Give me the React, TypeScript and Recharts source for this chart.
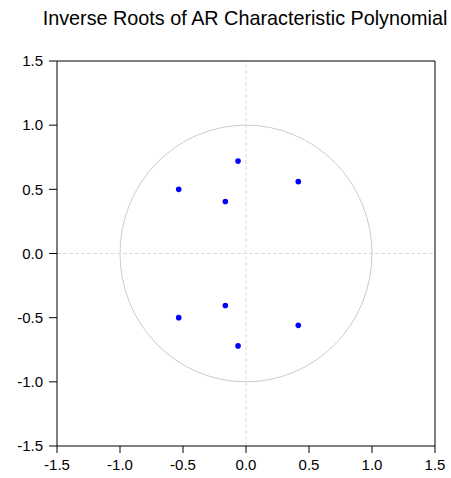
import * as R from "recharts";
import { ScatterChart, Scatter, XAxis, YAxis, ReferenceLine, Customized } from "recharts";

const rootsRe = [-0.063, 0.415, -0.534, -0.164, -0.164, -0.534, -0.063, 0.415];
const rootsIm = [0.72, 0.56, 0.5, 0.405, -0.405, -0.5, -0.72, -0.56];
const axisTicks = [-1.5, -1.0, -0.5, 0.0, 0.5, 1.0, 1.5];
const axisDomain = [-1.5, 1.5];

const roots = rootsRe.map((re, i) => ({ re, im: rootsIm[i] }));

const W = 451;
const H = 478;
const FONT = "'Liberation Sans', Arial, sans-serif";

function UnitCircle() {
  const anyR = R as any;
  let area: any = anyR.usePlotArea ? anyR.usePlotArea() : null;
  if (!area && anyR.useOffset) {
    const off = anyR.useOffset();
    const w = anyR.useChartWidth();
    const h = anyR.useChartHeight();
    if (off && w && h) area = { x: off.left, y: off.top, width: w - off.left - off.right, height: h - off.top - off.bottom };
  }
  if (!area) return null;
  const span = axisDomain[1] - axisDomain[0];
  const rx = area.width / span;
  const ry = area.height / span;
  const cx = area.x + area.width * ((0 - axisDomain[0]) / span);
  const cy = area.y + area.height * ((axisDomain[1] - 0) / span);
  return <ellipse cx={cx} cy={cy} rx={rx} ry={ry} fill="none" stroke="#cccccc" strokeWidth={1} />;
}

const fmt = (v: number) => v.toFixed(1);

export default function App() {
  return (
    <div style={{ position: "absolute", left: 0, top: 0, width: W, height: H, background: "#fff", overflow: "hidden" }}>
      <ScatterChart width={W} height={H} margin={{ top: 61, right: 16, bottom: 0, left: 0 }}>
        <text x={245} y={25} textAnchor="middle" fontFamily={FONT} fontSize={19.8} fill="#000">
          Inverse Roots of AR Characteristic Polynomial
        </text>
        <XAxis
          type="number"
          dataKey="re"
          domain={axisDomain}
          ticks={axisTicks}
          tickFormatter={fmt}
          height={32}
          tickSize={7}
          tickMargin={6}
          interval={0}
          allowDataOverflow
          axisLine={{ stroke: "#000" }}
          tickLine={{ stroke: "#000" }}
          tick={{ fill: "#000", fontSize: 15, fontFamily: FONT }}
        />
        <YAxis
          type="number"
          dataKey="im"
          domain={axisDomain}
          ticks={axisTicks}
          tickFormatter={fmt}
          width={57}
          tickSize={8}
          tickMargin={6}
          interval={0}
          allowDataOverflow
          axisLine={{ stroke: "#000" }}
          tickLine={{ stroke: "#000" }}
          tick={{ fill: "#000", fontSize: 15, fontFamily: FONT }}
        />
        <ReferenceLine x={0} stroke="#dcdcdc" strokeDasharray="4 2" />
        <ReferenceLine y={0} stroke="#dcdcdc" strokeDasharray="4 2" />
        <ReferenceLine x={axisDomain[1]} stroke="#000" />
        <ReferenceLine y={axisDomain[1]} stroke="#000" />
        <Customized component={<UnitCircle />} />
        <Scatter
          data={roots}
          fill="#0000ff"
          isAnimationActive={false}
          shape={(p: any) => <circle cx={p.cx} cy={p.cy} r={2.8} fill="#0000ff" />}
        />
      </ScatterChart>
    </div>
  );
}
